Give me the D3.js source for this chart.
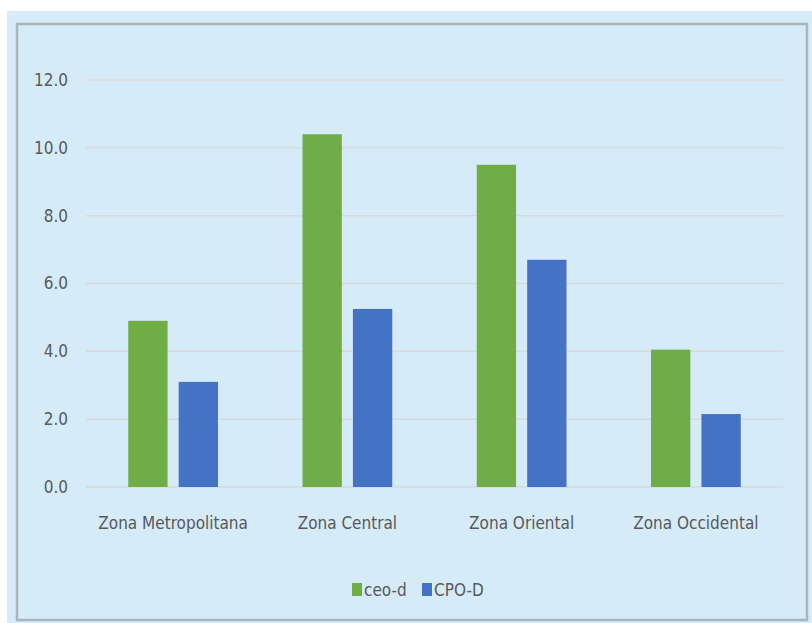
<!DOCTYPE html>
<html><head><meta charset="utf-8">
<script src="https://cdn.jsdelivr.net/npm/d3@7"></script>
<style>body{margin:0;background:#fff;}svg{display:block;}</style>
</head><body>
<svg id="c" width="812" height="623"></svg>
<script>
const categories = ["Zona Metropolitana", "Zona Central", "Zona Oriental", "Zona Occidental"];
const seriesNames = ["ceo-d", "CPO-D"];
const ceoD = [4.9, 10.4, 9.5, 4.05];
const cpoD = [3.1, 5.25, 6.7, 2.15];
const yTicks = [0, 2, 4, 6, 8, 10, 12];
const colors = ["#70ad47", "#4472c4"];

const svg = d3.select("#c");
const font = "'Liberation Sans Narrow','DejaVu Sans Condensed','Roboto Condensed',sans-serif";
svg.append("rect").attr("x", 7).attr("y", 11).attr("width", 805).attr("height", 612).attr("fill", "#d5ebf8");
svg.append("rect").attr("x", 17).attr("y", 24).attr("width", 790).attr("height", 596)
  .attr("fill", "none").attr("stroke", "#a9b4bb").attr("stroke-width", 2.5);

const plotLeft = 86, plotRight = 783, plotTop = 80, plotBottom = 487;
const x0 = d3.scaleBand().domain(categories).range([plotLeft, plotRight]).paddingInner(0.485).paddingOuter(0.2425);
const x1 = d3.scaleBand().domain(seriesNames).range([0, x0.bandwidth()]).paddingInner(0.22);
const y = d3.scaleLinear().domain([0, 12]).range([plotBottom, plotTop]);

const yAxis = d3.axisLeft(y).tickValues(yTicks).tickFormat(d3.format(".1f")).tickSize(0).tickPadding(18);
const gy = svg.append("g").attr("transform", `translate(${plotLeft},0)`).call(yAxis);
gy.select(".domain").remove();
gy.selectAll("text").attr("fill", "#595959").style("font-family", font).style("font-size", "17px");

svg.append("g").selectAll("line").data(yTicks).join("line")
  .attr("x1", plotLeft).attr("x2", plotRight).attr("y1", d => y(d)).attr("y2", d => y(d))
  .attr("stroke", "#d9d9d9").attr("stroke-width", 1.5);

const data = categories.map((c, i) => ({c, vals: [ceoD[i], cpoD[i]]}));
const g = svg.append("g");
data.forEach(d => {
  d.vals.forEach((v, j) => {
    g.append("rect")
      .attr("x", x0(d.c) + x1(seriesNames[j]))
      .attr("y", y(v))
      .attr("width", x1.bandwidth())
      .attr("height", y(0) - y(v))
      .attr("fill", colors[j]);
  });
});

const xAxis = d3.axisBottom(x0).tickSize(0).tickPadding(30);
const gx = svg.append("g").attr("transform", `translate(0,${plotBottom})`).call(xAxis);
gx.select(".domain").remove();
gx.selectAll("text").attr("fill", "#595959").style("font-family", font).style("font-size", "17px");

const legend = svg.append("g");
const legendX = [352, 422];
seriesNames.forEach((s, j) => {
  legend.append("rect").attr("x", legendX[j]).attr("y", 583).attr("width", 10).attr("height", 13).attr("fill", colors[j]);
  legend.append("text").attr("x", legendX[j] + 12).attr("y", 596).text(s)
    .attr("fill", "#595959").style("font-family", font).style("font-size", "17px");
});
</script>
</body></html>
